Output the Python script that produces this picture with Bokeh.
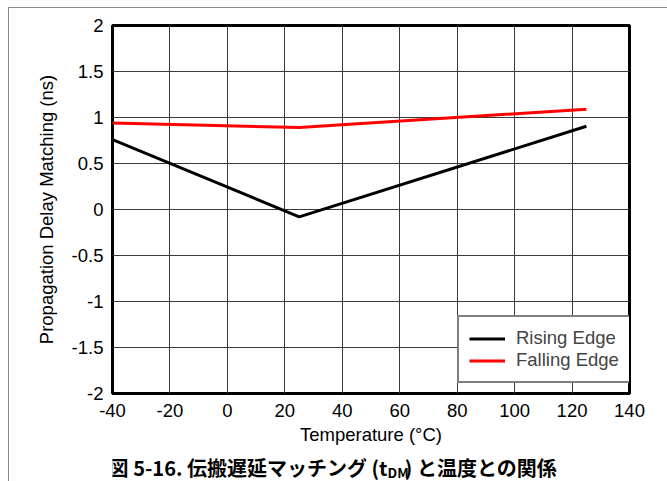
from bokeh.plotting import figure
from bokeh.layouts import column
from bokeh.models import Range1d, FixedTicker, CustomJSTickFormatter, Legend, LegendItem, Label
from bokeh.embed import file_html
from bokeh.resources import INLINE

# ---- data ----
temperature = [-40, 25, 125]
rising_edge = [0.76, -0.08, 0.905]
falling_edge = [0.94, 0.89, 1.09]
x_ticks = [-40, -20, 0, 20, 40, 60, 80, 100, 120, 140]
y_ticks = [-2, -1.5, -1, -0.5, 0, 0.5, 1, 1.5, 2]
x_title = "Temperature (°C)"
y_title = "Propagation Delay Matching (ns)"
caption_a = "図 5-16. 伝搬遅延マッチング (t"
caption_sub = "DM"
caption_b = ") と温度との関係"

FONT = "Liberation Sans"
FS = "18.5px"
W = 658

p = figure(width=W, height=445, output_backend="svg", toolbar_location=None,
           x_range=Range1d(x_ticks[0], x_ticks[-1]), y_range=Range1d(y_ticks[0], y_ticks[-1]),
           min_border_left=103, min_border_right=38, min_border_top=17, min_border_bottom=60)

p.outline_line_color = "black"
p.outline_line_width = 3
p.background_fill_color = "white"
p.border_fill_color = "white"

for ax, ticks in ((p.xaxis[0], x_ticks), (p.yaxis[0], y_ticks)):
    ax.ticker = FixedTicker(ticks=ticks)
    ax.formatter = CustomJSTickFormatter(code="return tick.toString();")
    ax.axis_line_color = None
    ax.major_tick_line_color = None
    ax.minor_tick_line_color = None
    ax.major_tick_out = 0
    ax.major_tick_in = 0
    ax.major_label_text_font = FONT
    ax.major_label_text_font_size = FS
    ax.major_label_text_color = "black"
    ax.axis_label_text_font = FONT
    ax.axis_label_text_font_size = FS
    ax.axis_label_text_font_style = "normal"
    ax.axis_label_text_color = "black"

p.xaxis[0].axis_label = x_title
p.yaxis[0].axis_label = y_title
p.xaxis[0].major_label_standoff = 10
p.yaxis[0].major_label_standoff = 9
p.xaxis[0].axis_label_standoff = 4
p.yaxis[0].axis_label_standoff = 12

for g in (p.xgrid[0], p.ygrid[0]):
    g.grid_line_color = "#3a3a3a"
    g.grid_line_width = 1
    g.grid_line_alpha = 1.0

r_rise = p.line(temperature, rising_edge, line_color="black", line_width=3)
r_fall = p.line(temperature, falling_edge, line_color="#ff0000", line_width=3)

legend = Legend(items=[LegendItem(label="Rising Edge", renderers=[r_rise]),
                       LegendItem(label="Falling Edge", renderers=[r_fall])],
                location=(345, 10))
legend.border_line_color = "black"
legend.border_line_width = 2
legend.background_fill_color = "white"
legend.background_fill_alpha = 1
legend.label_text_font = FONT
legend.label_text_font_size = FS
legend.glyph_width = 36
legend.label_standoff = 11
legend.padding = 10
legend.spacing = 0
legend.label_height = 21
legend.glyph_height = 21
legend.margin = 0
p.add_layout(legend, "center")

# ---- caption strip below the chart ----
cap = figure(width=W, height=28, output_backend="svg", toolbar_location=None,
             x_range=Range1d(0, W), y_range=Range1d(0, 28), min_border=0,
             x_axis_type=None, y_axis_type=None)
cap.outline_line_color = None
cap.background_fill_color = "white"
cap.border_fill_color = "white"

CJK = "Noto Sans CJK JP"
cap_x, cap_y = 350, 14
lab_a = Label(x=cap_x, y=cap_y, text=caption_a,
              text_align="right", text_baseline="middle", text_font=CJK,
              text_font_size="20px", text_font_style="bold", text_color="black")
lab_s = Label(x=cap_x, y=cap_y - 4, text=caption_sub,
              text_align="left", text_baseline="middle", text_font=CJK,
              text_font_size="13.5px", text_font_style="bold", text_color="black")
lab_b = Label(x=cap_x + 22, y=cap_y, text=caption_b,
              text_align="left", text_baseline="middle", text_font=CJK,
              text_font_size="20px", text_font_style="bold", text_color="black")
for l in (lab_a, lab_s, lab_b):
    cap.add_layout(l)

layout = column(p, cap, spacing=0)
layout.styles = {"margin-left": "8px", "margin-top": "7px",
                 "border-left": "1px solid #8a8a8a", "border-top": "1px solid #8a8a8a"}

open("out.html", "w").write(file_html(layout, INLINE))
